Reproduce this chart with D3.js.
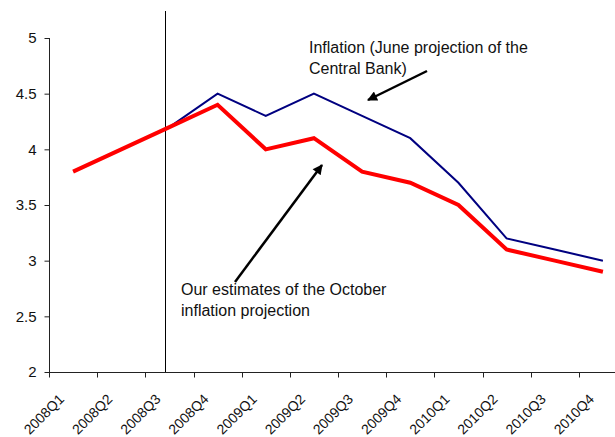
<!DOCTYPE html>
<html>
<head>
<meta charset="utf-8">
<script src="https://cdn.jsdelivr.net/npm/d3@7"></script>
<style>
  body { margin: 0; background: #fff; }
  svg { display: block; font-family: "Liberation Sans", Arial, sans-serif; }
</style>
</head>
<body>
<div id="chart"></div>
<script>
var quarters = ["2008Q1","2008Q2","2008Q3","2008Q4","2009Q1","2009Q2","2009Q3","2009Q4","2010Q1","2010Q2","2010Q3","2010Q4"];
var octoberEstimate = [3.8, 4.0, 4.2, 4.4, 4.0, 4.1, 3.8, 3.7, 3.5, 3.1, 3.0, 2.9];
var juneProjection = [null, null, 4.2, 4.5, 4.3, 4.5, 4.3, 4.1, 3.7, 3.2, 3.1, 3.0];
var yTicks = [2, 2.5, 3, 3.5, 4, 4.5, 5];

var width = 615, height = 437;

var svg = d3.select("#chart").append("svg")
  .attr("width", width)
  .attr("height", height);

// plot area runs a little past the right edge, like the cropped original
var x = d3.scaleBand().domain(quarters).range([49, 627]).paddingInner(0).paddingOuter(0);
var y = d3.scaleLinear().domain([2, 5]).range([372, 38]);
var cx = function(d){ return x(d) + x.bandwidth() / 2; };

// y axis
var yAxis = d3.axisLeft(y).tickValues(yTicks).tickSize(5).tickPadding(8)
  .tickFormat(function(d){ return d3.format("")(d); });
var gy = svg.append("g").attr("transform", "translate(49.5,0)").call(yAxis);
gy.select(".domain").attr("stroke", "#222").attr("d", "M0," + y(5) + "V" + y(2));
gy.selectAll(".tick line").attr("stroke", "#222");
gy.selectAll(".tick text").style("font-size", "15px").attr("fill", "#111");

// x axis: ticks on category boundaries, labels at centres
var gx = svg.append("g").attr("transform", "translate(0," + (y(2) + 0.5) + ")");
gx.append("line").attr("x1", 49).attr("x2", 627).attr("stroke", "#222");
gx.selectAll(".bt").data(quarters).enter().append("line")
  .attr("class", "bt")
  .attr("x1", function(d){ return Math.round(x(d)) + 0.5; })
  .attr("x2", function(d){ return Math.round(x(d)) + 0.5; })
  .attr("y1", 0).attr("y2", 5)
  .attr("stroke", "#222");
gx.selectAll(".lbl").data(quarters).enter().append("text")
  .attr("class", "lbl")
  .attr("transform", function(d){ return "translate(" + (cx(d) - 8) + ",27.5) rotate(-45)"; })
  .attr("text-anchor", "end")
  .style("font-size", "14px")
  .attr("fill", "#111")
  .text(function(d){ return d; });

// vertical marker line
svg.append("line")
  .attr("x1", 165.5).attr("x2", 165.5)
  .attr("y1", 11).attr("y2", y(2))
  .attr("stroke", "#000").attr("stroke-width", 1);

var line = d3.line()
  .defined(function(d){ return d.v != null; })
  .x(function(d){ return cx(d.q); })
  .y(function(d){ return y(d.v); });

svg.append("path")
  .datum(quarters.map(function(q, i){ return {q: q, v: juneProjection[i]}; }))
  .attr("fill", "none").attr("stroke", "#000080").attr("stroke-width", 2)
  .attr("stroke-linejoin", "miter")
  .attr("d", line);

svg.append("path")
  .datum(quarters.map(function(q, i){ return {q: q, v: octoberEstimate[i]}; }))
  .attr("fill", "none").attr("stroke", "#ff0000").attr("stroke-width", 4)
  .attr("stroke-linejoin", "miter")
  .attr("d", line);

// arrows
var defs = svg.append("defs");
defs.append("marker")
  .attr("id", "arrow")
  .attr("viewBox", "0 0 10 10")
  .attr("refX", 9).attr("refY", 5)
  .attr("markerWidth", 4.5).attr("markerHeight", 4)
  .attr("markerUnits", "strokeWidth")
  .attr("orient", "auto")
  .append("path").attr("d", "M0,0L10,5L0,10z").attr("fill", "#000");

svg.append("line")
  .attr("x1", 427).attr("y1", 71).attr("x2", 368).attr("y2", 100)
  .attr("stroke", "#000").attr("stroke-width", 2.5)
  .attr("marker-end", "url(#arrow)");
svg.append("line")
  .attr("x1", 235).attr("y1", 282).attr("x2", 322).attr("y2", 165)
  .attr("stroke", "#000").attr("stroke-width", 2.5)
  .attr("marker-end", "url(#arrow)");

// annotations
function note(lines, x0, y0){
  var t = svg.append("text").attr("x", x0).attr("y", y0)
    .style("font-size", "16px").attr("fill", "#111");
  lines.forEach(function(s, i){
    t.append("tspan").attr("x", x0).attr("dy", i ? 21 : 0).text(s);
  });
}
note(["Inflation (June projection of the", "Central Bank)"], 309, 52.5);
note(["Our estimates of the October", "inflation projection"], 181, 295);
</script>
</body>
</html>
